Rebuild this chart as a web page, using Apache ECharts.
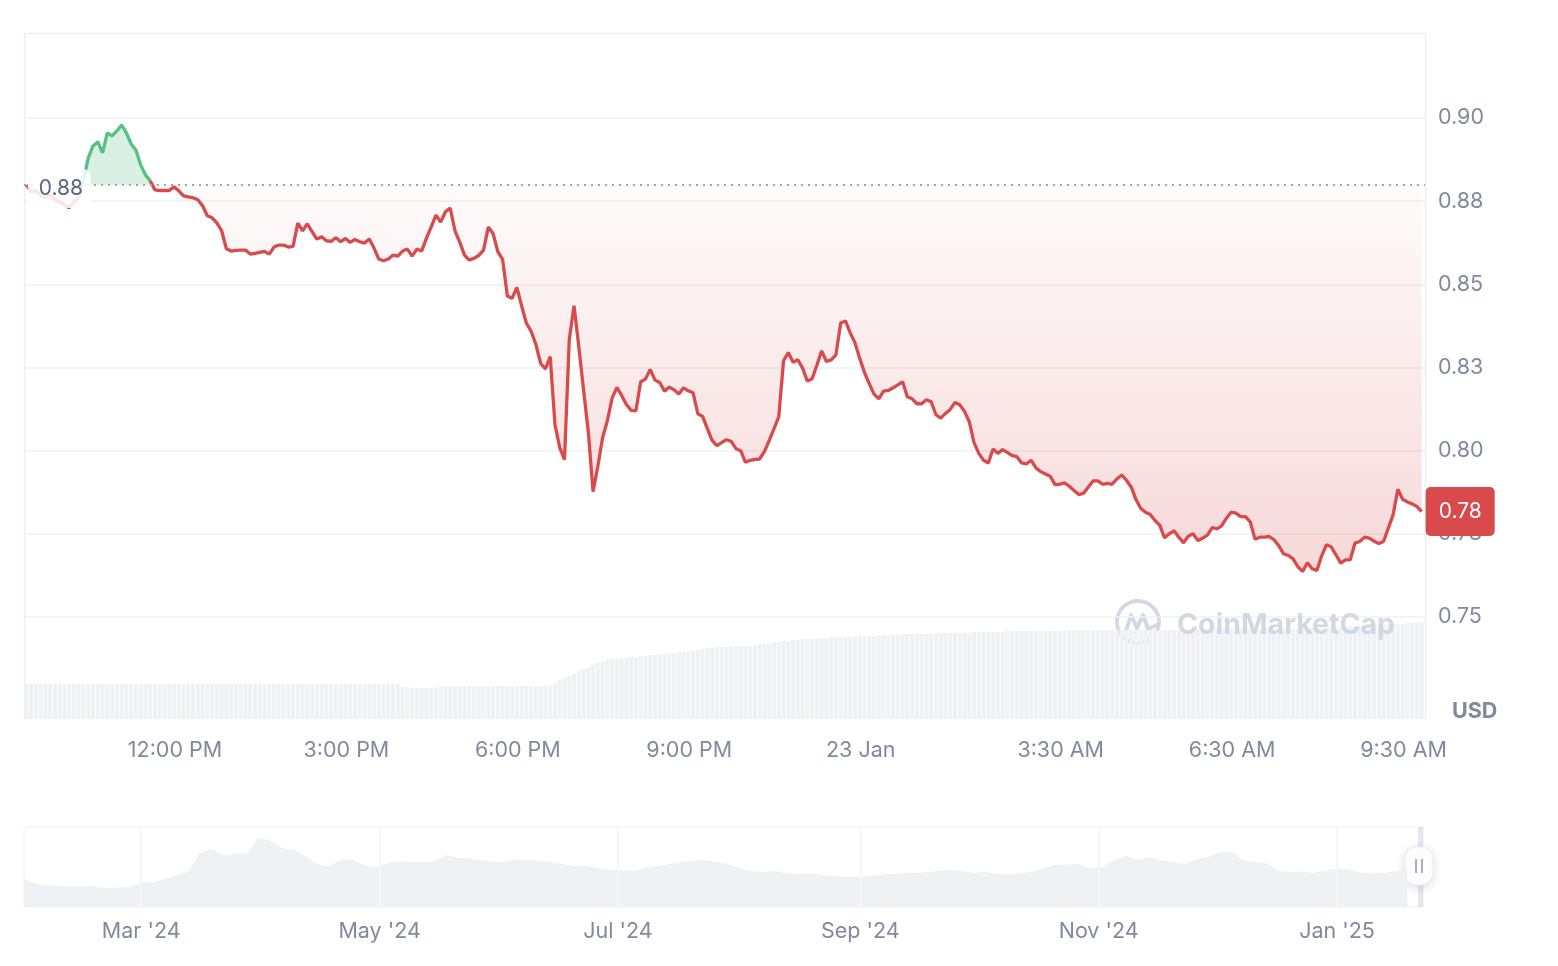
<!DOCTYPE html>
<html>
<head>
<meta charset="utf-8">
<title>Price chart</title>
<script src="https://cdn.jsdelivr.net/npm/echarts@6/dist/echarts.min.js"></script>
<style>
html, body { margin: 0; padding: 0; background: #fff; }
#chart { width: 1558px; height: 966px; }
</style>
</head>
<body>
<div id="chart"></div>
<script>
// price every 5 minutes, 22 Jan 2025 09:24 -> 23 Jan 2025 09:49
const prices = [
  0.8799, 0.8778, 0.8781, 0.8769, 0.8760, 0.8769, 0.8754, 0.8748, 0.8739, 0.8730,
  0.8748, 0.8760, 0.8814, 0.8880, 0.8916, 0.8928, 0.8895, 0.8955, 0.8946, 0.8961,
  0.8979, 0.8955, 0.8922, 0.8904, 0.8859, 0.8829, 0.8811, 0.8784, 0.8782, 0.8782,
  0.8782, 0.8793, 0.8781, 0.8766, 0.8763, 0.8760, 0.8754, 0.8736, 0.8706, 0.8700,
  0.8685, 0.8661, 0.8607, 0.8600, 0.8602, 0.8603, 0.8603, 0.8591, 0.8593, 0.8596,
  0.8599, 0.8591, 0.8612, 0.8618, 0.8618, 0.8612, 0.8614, 0.8684, 0.8661, 0.8682,
  0.8658, 0.8636, 0.8643, 0.8631, 0.8629, 0.8640, 0.8628, 0.8638, 0.8626, 0.8635,
  0.8628, 0.8624, 0.8636, 0.8609, 0.8576, 0.8571, 0.8576, 0.8588, 0.8585, 0.8600,
  0.8606, 0.8585, 0.8606, 0.8600, 0.8638, 0.8672, 0.8708, 0.8687, 0.8718, 0.8729,
  0.8661, 0.8627, 0.8588, 0.8573, 0.8578, 0.8587, 0.8603, 0.8672, 0.8653, 0.8598,
  0.8575, 0.8465, 0.8458, 0.8491, 0.8435, 0.8383, 0.8359, 0.8319, 0.8262, 0.8246,
  0.8283, 0.8078, 0.8009, 0.7973, 0.8333, 0.8436, 0.8313, 0.8183, 0.8057, 0.7877,
  0.7953, 0.8039, 0.8090, 0.8158, 0.8190, 0.8166, 0.8139, 0.8121, 0.8120, 0.8207,
  0.8215, 0.8244, 0.8212, 0.8205, 0.8179, 0.8191, 0.8183, 0.8170, 0.8189, 0.8180,
  0.8174, 0.8111, 0.8103, 0.8066, 0.8031, 0.8015, 0.8024, 0.8033, 0.8028, 0.8006,
  0.8000, 0.7965, 0.7971, 0.7974, 0.7975, 0.7998, 0.8031, 0.8066, 0.8102, 0.8270,
  0.8295, 0.8266, 0.8273, 0.8248, 0.8209, 0.8216, 0.8257, 0.8300, 0.8268, 0.8273,
  0.8288, 0.8384, 0.8390, 0.8354, 0.8324, 0.8277, 0.8235, 0.8201, 0.8170, 0.8156,
  0.8179, 0.8181, 0.8189, 0.8198, 0.8207, 0.8162, 0.8156, 0.8141, 0.8141, 0.8153,
  0.8147, 0.8108, 0.8098, 0.8112, 0.8124, 0.8145, 0.8138, 0.8118, 0.8087, 0.8024,
  0.7992, 0.7971, 0.7963, 0.8005, 0.7992, 0.8003, 0.7995, 0.7985, 0.7982, 0.7963,
  0.7960, 0.7971, 0.7948, 0.7937, 0.7930, 0.7923, 0.7898, 0.7899, 0.7903, 0.7893,
  0.7880, 0.7868, 0.7872, 0.7891, 0.7909, 0.7909, 0.7899, 0.7902, 0.7899, 0.7915,
  0.7927, 0.7911, 0.7891, 0.7853, 0.7827, 0.7815, 0.7808, 0.7790, 0.7776, 0.7738,
  0.7750, 0.7759, 0.7740, 0.7723, 0.7743, 0.7750, 0.7730, 0.7737, 0.7746, 0.7769,
  0.7765, 0.7774, 0.7797, 0.7815, 0.7812, 0.7802, 0.7802, 0.7786, 0.7734, 0.7740,
  0.7740, 0.7742, 0.7732, 0.7714, 0.7690, 0.7685, 0.7675, 0.7651, 0.7637, 0.7663,
  0.7645, 0.7640, 0.7684, 0.7717, 0.7711, 0.7687, 0.7662, 0.7672, 0.7672, 0.7722,
  0.7727, 0.7740, 0.7737, 0.7728, 0.7721, 0.7727, 0.7767, 0.7807, 0.7884, 0.7854,
  0.7846, 0.7840, 0.7832, 0.7817
];

// 24h volume (million USD) at the same timestamps
const volumes = [
  3.5, 3.5, 3.5, 3.5, 3.5, 3.5, 3.5, 3.5, 3.5, 3.5,
  3.5, 3.5, 3.5, 3.5, 3.5, 3.5, 3.5, 3.5, 3.5, 3.5,
  3.5, 3.5, 3.5, 3.5, 3.5, 3.5, 3.5, 3.5, 3.5, 3.5,
  3.5, 3.5, 3.5, 3.5, 3.5, 3.5, 3.5, 3.5, 3.5, 3.5,
  3.5, 3.5, 3.5, 3.5, 3.5, 3.5, 3.5, 3.5, 3.5, 3.5,
  3.5, 3.5, 3.5, 3.5, 3.5, 3.5, 3.5, 3.5, 3.5, 3.5,
  3.5, 3.5, 3.5, 3.5, 3.5, 3.5, 3.5, 3.5, 3.5, 3.5,
  3.5, 3.5, 3.5, 3.5, 3.5, 3.5, 3.5, 3.5, 3.5, 3.2,
  3.2, 3.1, 3.1, 3.1, 3.1, 3.1, 3.1, 3.3, 3.3, 3.3,
  3.3, 3.3, 3.3, 3.3, 3.3, 3.3, 3.3, 3.3, 3.3, 3.3,
  3.3, 3.3, 3.3, 3.3, 3.3, 3.3, 3.3, 3.3, 3.3, 3.3,
  3.4, 3.6, 3.9, 4.1, 4.3, 4.5, 4.8, 5.0, 5.1, 5.4,
  5.6, 5.7, 5.9, 6.0, 6.0, 6.1, 6.1, 6.2, 6.2, 6.3,
  6.3, 6.4, 6.4, 6.5, 6.5, 6.6, 6.6, 6.7, 6.7, 6.8,
  6.8, 6.9, 7.0, 7.1, 7.1, 7.2, 7.2, 7.2, 7.3, 7.3,
  7.3, 7.3, 7.3, 7.4, 7.5, 7.5, 7.6, 7.7, 7.7, 7.8,
  7.8, 7.9, 7.9, 8.0, 8.0, 8.0, 8.1, 8.1, 8.1, 8.2,
  8.2, 8.2, 8.2, 8.2, 8.3, 8.3, 8.3, 8.3, 8.3, 8.4,
  8.4, 8.4, 8.4, 8.4, 8.5, 8.5, 8.5, 8.5, 8.5, 8.5,
  8.5, 8.5, 8.6, 8.6, 8.6, 8.6, 8.6, 8.6, 8.6, 8.7,
  8.7, 8.7, 8.7, 8.7, 8.7, 8.7, 8.8, 8.8, 8.8, 8.8,
  8.8, 8.8, 8.8, 8.8, 8.8, 8.8, 8.8, 8.8, 8.8, 8.9,
  8.9, 8.9, 8.9, 8.9, 8.9, 8.9, 8.9, 8.9, 8.9, 8.9,
  8.9, 8.9, 8.9, 8.9, 8.9, 8.9, 8.9, 8.9, 8.9, 8.9,
  8.9, 8.9, 8.9, 8.9, 8.9, 8.9, 9.0, 9.0, 9.0, 9.0,
  9.0, 9.0, 9.0, 9.0, 9.0, 9.0, 9.0, 9.0, 9.0, 9.0,
  9.0, 9.0, 9.0, 9.0, 9.0, 9.0, 9.0, 9.0, 9.0, 9.0,
  9.1, 9.1, 9.1, 9.1, 9.2, 9.2, 9.2, 9.2, 9.3, 9.3,
  9.3, 9.3, 9.4, 9.4, 9.4, 9.4, 9.5, 9.5, 9.5, 9.5,
  9.6, 9.6, 9.7, 9.7
];

const timeTicks = [
  [2025, 0, 22, 12, 0], [2025, 0, 22, 15, 0], [2025, 0, 22, 18, 0], [2025, 0, 22, 21, 0],
  [2025, 0, 23, 0, 0], [2025, 0, 23, 3, 30], [2025, 0, 23, 6, 30], [2025, 0, 23, 9, 30]
];
const timeTickLabels = ['12:00 PM', '3:00 PM', '6:00 PM', '9:00 PM', '23 Jan', '3:30 AM', '6:30 AM', '9:30 AM'];

// one-year overview, a price every 3 days from 31 Jan 2024
const navPrices = [
  0.685, 0.623, 0.596, 0.589, 0.582, 0.582, 0.589, 0.561, 0.568, 0.575,
  0.637, 0.637, 0.685, 0.733, 0.788, 1.042, 1.098, 1.008, 1.036, 1.038,
  1.249, 1.214, 1.111, 1.091, 1.001, 0.891, 0.857, 0.950, 0.953, 0.878,
  0.843, 0.905, 0.928, 0.915, 0.919, 0.926, 1.015, 0.978, 0.964, 0.944,
  0.923, 0.923, 0.956, 0.946, 0.933, 0.919, 0.891, 0.864, 0.864, 0.836,
  0.809, 0.809, 0.795, 0.836, 0.864, 0.891, 0.919, 0.933, 0.946, 0.919,
  0.891, 0.836, 0.795, 0.781, 0.795, 0.768, 0.754, 0.768, 0.740, 0.726,
  0.713, 0.713, 0.726, 0.740, 0.754, 0.768, 0.768, 0.781, 0.795, 0.809,
  0.795, 0.768, 0.781, 0.754, 0.740, 0.768, 0.785, 0.836, 0.882, 0.885,
  0.891, 0.829, 0.850, 0.944, 1.005, 0.953, 0.988, 0.942, 0.919, 0.891,
  0.955, 0.988, 1.052, 1.060, 0.946, 0.919, 0.902, 0.802, 0.785, 0.788,
  0.772, 0.802, 0.829, 0.816, 0.768, 0.763, 0.768, 0.791, 0.809
];
const navTicks = [[2024, 2, 1], [2024, 4, 1], [2024, 6, 1], [2024, 8, 1], [2024, 10, 1], [2025, 0, 1]];
const navTickLabels = ["Mar '24", "May '24", "Jul '24", "Sep '24", "Nov '24", "Jan '25"];

const RED = '#d94a4c';
const GREEN = '#56c182';
const GREY = '#808a9d';
const FONT = 'Inter';

const priceStart = new Date(2025, 0, 22, 9, 24).getTime();
const step = 5 * 60 * 1000;
const base = prices[0];

const priceData = prices.map((v, i) => [priceStart + i * step, v]);
// green stretch = run of points above the opening price (plus its neighbours)
const firstUp = prices.findIndex(v => v > base);
let lastUp = firstUp;
while (lastUp + 1 < prices.length && prices[lastUp + 1] > base) lastUp++;
const greenLine = priceData.map((p, i) => (i >= firstUp - 1 && i <= lastUp) ? p : [p[0], null]);
const redLine = priceData.map((p, i) => (i > firstUp - 1 && i < lastUp) ? [p[0], null] : p);
const redArea = prices.map((v, i) => [priceStart + i * step, Math.min(v, base)]);
const greenArea = prices.map((v, i) => [priceStart + i * step, Math.max(v, base)]);
const volData = volumes.map((v, i) => [priceStart + i * step, v]);

const navStart = new Date(2024, 0, 31).getTime();
const navData = navPrices.map((v, i) => [navStart + i * 3 * 86400000, v]);

const tickTimes = timeTicks.map(t => new Date(...t).getTime());
const tickLabel = new Map(tickTimes.map((t, i) => [t, timeTickLabels[i]]));
const navTimes = navTicks.map(t => new Date(...t).getTime());
const navLabel = new Map(navTimes.map((t, i) => [t, navTickLabels[i]]));

const timeMin = new Date(2025, 0, 22, 9, 21, 30).getTime();
const timeMax = new Date(2025, 0, 23, 9, 52, 30).getTime();
const navMax = new Date(2025, 0, 23).getTime();

const chart = echarts.init(document.getElementById('chart'));

let option = {
    animation: false,
    backgroundColor: '#fff',
    textStyle: { fontFamily: FONT },
    grid: [
        { left: 24, right: 133, top: 118, bottom: 349, outerBoundsMode: 'none' },
        { left: 24, right: 133, top: 619, bottom: 247, outerBoundsMode: 'none' },
        {
            left: 24, right: 135, top: 827, bottom: 59, outerBoundsMode: 'none',
            show: true, borderColor: '#eef0f3', borderWidth: 1
        }
    ],
    xAxis: [
        {
            type: 'value', gridIndex: 0, min: timeMin, max: timeMax,
            axisLine: { show: false }, axisTick: { show: false },
            axisLabel: { show: false }, splitLine: { show: false }
        },
        {
            type: 'value', gridIndex: 1, min: timeMin, max: timeMax,
            axisLine: { show: false }, axisTick: { show: false },
            splitLine: { show: false },
            axisLabel: {
                customValues: tickTimes,
                formatter: v => tickLabel.get(v) || '',
                color: GREY, fontSize: 21.5, fontFamily: FONT, margin: 21,
                hideOverlap: false
            }
        },
        {
            type: 'value', gridIndex: 2, min: navStart, max: navMax,
            axisLine: { show: false }, axisTick: { show: false },
            splitLine: { show: false },
            axisLabel: {
                customValues: navTimes,
                formatter: v => navLabel.get(v) || '',
                color: GREY, fontSize: 21.5, fontFamily: FONT, margin: 14
            }
        }
    ],
    yAxis: [
        {
            type: 'value', gridIndex: 0, position: 'right',
            min: 0.75, max: 0.9, interval: 0.025,
            axisLine: { show: false }, axisTick: { show: false },
            axisLabel: {
                formatter: v => (v + 1e-9).toFixed(2),
                color: GREY, fontSize: 21.5, fontFamily: FONT, margin: 13
            },
            splitLine: { lineStyle: { color: '#eff1f4', width: 1.5 } }
        },
        {
            type: 'value', gridIndex: 1, min: 0, max: 10, show: false,
            splitLine: { show: false }
        },
        {
            type: 'value', gridIndex: 2, min: 0.3, max: 1.4, show: false,
            splitLine: { show: false }
        }
    ],
    series: [
        {
            name: 'fall', type: 'line', xAxisIndex: 0, yAxisIndex: 0,
            data: redArea, showSymbol: false, silent: true,
            lineStyle: { width: 0 },
            areaStyle: {
                origin: base,
                color: new echarts.graphic.LinearGradient(0, 0, 0, 1, [
                    { offset: 0, color: 'rgba(217,74,76,0.03)' },
                    { offset: 1, color: 'rgba(217,74,76,0.30)' }
                ])
            }
        },
        {
            name: 'rise', type: 'line', xAxisIndex: 0, yAxisIndex: 0,
            data: greenArea, showSymbol: false, silent: true,
            lineStyle: { width: 0 },
            areaStyle: { origin: base, color: 'rgba(86,193,130,0.32)' }
        },
        {
            name: 'price up', type: 'line', xAxisIndex: 0, yAxisIndex: 0,
            data: greenLine, showSymbol: false, connectNulls: false,
            lineStyle: { width: 3.3, color: GREEN }, itemStyle: { color: GREEN }
        },
        {
            name: 'price', type: 'line', xAxisIndex: 0, yAxisIndex: 0,
            data: redLine, showSymbol: false, connectNulls: false,
            lineStyle: { width: 3.3, color: RED }, itemStyle: { color: RED },
            endLabel: {
                show: true,
                formatter: p => p.value[1].toFixed(2),
                color: '#fff', backgroundColor: RED,
                fontSize: 21, fontFamily: FONT,
                padding: [14, 13, 14, 13], borderRadius: 5, distance: 4
            },
            markLine: {
                silent: true, symbol: ['none', 'none'],
                data: [{ yAxis: base }],
                lineStyle: { type: [2, 5], color: '#9ea4b0', width: 2 },
                label: {
                    position: 'start', formatter: base.toFixed(2),
                    color: '#58667e', fontSize: 21, fontFamily: FONT,
                    backgroundColor: 'rgba(255,255,255,0.86)',
                    padding: [9, 8, 9, 11], borderRadius: 8,
                    offset: [72, 4]
                }
            }
        },
        {
            name: 'volume', type: 'bar', xAxisIndex: 1, yAxisIndex: 1,
            data: volData, barWidth: 4, silent: true,
            itemStyle: { color: '#eff1f5' }
        },
        {
            name: 'overview', type: 'line', xAxisIndex: 2, yAxisIndex: 2,
            data: navData, showSymbol: false, silent: true,
            lineStyle: { width: 0 },
            areaStyle: { color: '#eff1f5', opacity: 1 },
            markLine: {
                silent: true, symbol: ['none', 'none'], label: { show: false },
                lineStyle: { type: 'solid', color: '#f5f6f8', width: 2 },
                data: navTimes.map(t => ({ xAxis: t }))
            }
        }
    ],
    graphic: [
        {
            type: 'polyline', silent: true, z: -1,
            shape: { points: [[24.5, 719], [24.5, 33.5], [1425.5, 33.5], [1425.5, 719]] },
            style: { stroke: '#eceef2', lineWidth: 1.5, fill: null }
        },
        {
            type: 'group', silent: true, x: 1138, y: 622, z: 5,
            children: [
                {
                    type: 'arc',
                    shape: { cx: 0, cy: 0, r: 21, startAngle: 0.9, endAngle: 0.9 + Math.PI * 1.85 },
                    style: { stroke: '#cbd2de', lineWidth: 4, fill: null, opacity: 0.85 }
                },
                {
                    type: 'polyline',
                    shape: { points: [[-12, 9], [-7, -7], [-1, 6], [5, -7], [10, 7], [19, 3]] },
                    style: { stroke: '#cbd2de', lineWidth: 4, fill: null, lineJoin: 'round', lineCap: 'round', opacity: 0.85 }
                }
            ]
        },
        {
            type: 'text', silent: true, x: 1177, y: 625, z: 5,
            style: {
                text: 'CoinMarketCap', fill: '#cbd2de', opacity: 0.85,
                font: 'bold 28.5px Inter', verticalAlign: 'middle'
            }
        },
        {
            type: 'text', silent: true, x: 1452, y: 712,
            style: { text: 'USD', fill: GREY, font: 'bold 21.5px Inter', verticalAlign: 'middle' }
        },
        {
            type: 'rect', silent: true,
            shape: { x: 1418, y: 827, width: 5, height: 80 },
            style: { fill: 'rgba(196,205,224,0.45)' }
        },
        {
            type: 'group', silent: true, x: 1405, y: 847, z: 10,
            children: [
                {
                    type: 'rect', shape: { x: 0, y: 0, width: 28, height: 38, r: 12 },
                    style: { fill: '#fff', stroke: '#eef0f4', lineWidth: 1, shadowBlur: 10, shadowColor: 'rgba(40,50,80,0.15)', shadowOffsetY: 2 }
                },
                { type: 'rect', shape: { x: 10, y: 12, width: 2, height: 14 }, style: { fill: '#a6b0c3' } },
                { type: 'rect', shape: { x: 16, y: 12, width: 2, height: 14 }, style: { fill: '#a6b0c3' } }
            ]
        }
    ]
};

chart.setOption(option);
</script>
</body>
</html>
